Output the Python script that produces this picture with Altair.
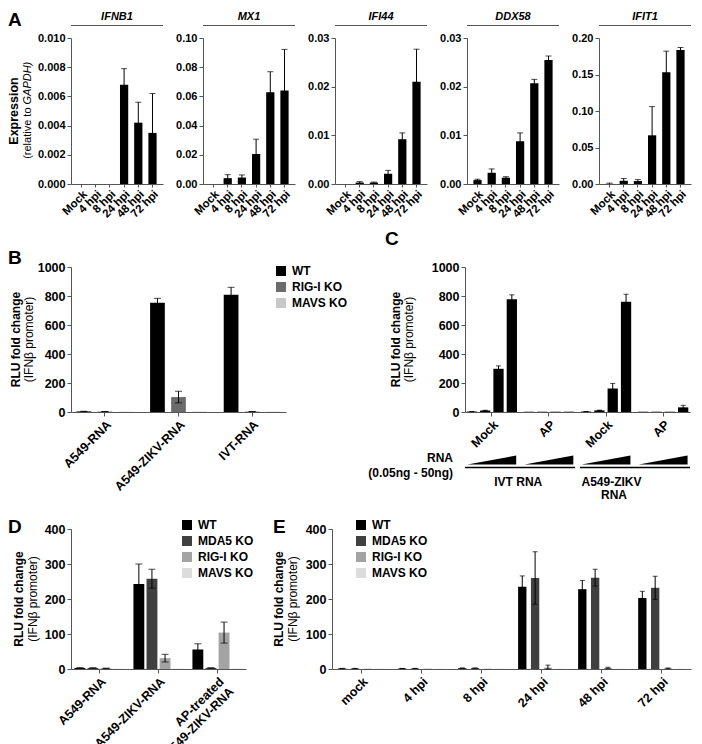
import altair as alt
import pandas as pd

FONT = "Liberation Sans"
AXC = "#555555"
ONE = pd.DataFrame({"k": [0]})

# ---------------- Panel A data ----------------
HPI = ["Mock", "4 hpi", "8 hpi", "24 hpi", "48 hpi", "72 hpi"]
A_GENES = ["IFNB1", "MX1", "IFI44", "DDX58", "IFIT1"]
IFNB1_MEAN = [0, 0, 0, 0.0068, 0.0042, 0.0035]
IFNB1_ERR = [0, 0, 0, 0.0011, 0.0014, 0.0027]
MX1_MEAN = [0, 0.0040, 0.0044, 0.0205, 0.0628, 0.0640]
MX1_ERR = [0, 0.0024, 0.0018, 0.0102, 0.0141, 0.0282]
IFI44_MEAN = [0, 0.0003, 0.0003, 0.0021, 0.0092, 0.0210]
IFI44_ERR = [0, 0.0002, 0.0001, 0.0007, 0.0013, 0.0067]
DDX58_MEAN = [0.0008, 0.0023, 0.0013, 0.0088, 0.0207, 0.0255]
DDX58_ERR = [0.0002, 0.0008, 0.0002, 0.0017, 0.0008, 0.0008]
IFIT1_MEAN = [0.0002, 0.0044, 0.0040, 0.0667, 0.1530, 0.1836]
IFIT1_ERR = [0.0010, 0.0032, 0.0020, 0.0393, 0.0290, 0.0034]
A_MEANS = [IFNB1_MEAN, MX1_MEAN, IFI44_MEAN, DDX58_MEAN, IFIT1_MEAN]
A_ERRS = [IFNB1_ERR, MX1_ERR, IFI44_ERR, DDX58_ERR, IFIT1_ERR]
A_YMAX = [0.010, 0.10, 0.03, 0.03, 0.20]
A_YTICKS = [
    [0, 0.002, 0.004, 0.006, 0.008, 0.010],
    [0, 0.02, 0.04, 0.06, 0.08, 0.10],
    [0, 0.01, 0.02, 0.03],
    [0, 0.01, 0.02, 0.03],
    [0, 0.05, 0.10, 0.15, 0.20],
]
A_FMT = [".3f", ".2f", ".2f", ".2f", ".2f"]

# ---------------- Panel B data ----------------
B_GROUPS = ["A549-RNA", "A549-ZIKV-RNA", "IVT-RNA"]
B_SERIES = ["WT", "RIG-I KO", "MAVS KO"]
B_MEAN = [[4, 754, 808], [3, 103, 3], [2, 3, 2]]
B_ERR = [[1, 30, 52], [0.5, 40, 0.5], [0, 0, 0]]
B_COLORS = ["#000000", "#6b6b6b", "#c8c8c8"]

# ---------------- Panel C data ----------------
C_GROUPS = ["IVT RNA|Mock", "IVT RNA|AP", "A549-ZIKV RNA|Mock", "A549-ZIKV RNA|AP"]
C_DOSES = ["0.05 ng", "0.5 ng", "5 ng", "50 ng"]
C_MEAN = [[3, 2, 3, 2], [10, 2, 11, 2], [298, 2, 162, 2], [778, 2, 760, 32]]
C_ERR = [[0.5, 0, 0.5, 0], [2, 0, 2, 0], [20, 0, 35, 0], [30, 0, 52, 14]]

# ---------------- Panel D data ----------------
D_GROUPS = ["A549-RNA", "A549-ZIKV-RNA", "AP-treated|A549-ZIKV-RNA"]
DE_SERIES = ["WT", "MDA5 KO", "RIG-I KO", "MAVS KO"]
D_MEAN = [[3, 243, 56], [3, 258, 3], [2, 31, 104], [1, 1, 1]]
D_ERR = [[0.5, 57, 16], [0.5, 27, 0.5], [0.5, 11, 30], [0, 0, 0]]
DE_COLORS = ["#000000", "#404040", "#a3a3a3", "#dcdcdc"]

# ---------------- Panel E data ----------------
E_GROUPS = ["mock", "4 hpi", "8 hpi", "24 hpi", "48 hpi", "72 hpi"]
E_MEAN = [[1.5, 1.5, 2.5, 235, 228, 203], [1.5, 1.5, 2.5, 260, 261, 232],
          [1, 1, 1, 4, 3, 2], [1, 1, 1, 1, 1, 1]]
E_ERR = [[0.3, 0.3, 0.5, 31, 25, 19], [0.3, 0.3, 0.5, 75, 24, 33],
         [0, 0, 0, 7, 2, 1], [0, 0, 0, 0, 0, 0]]

RLU_TICKS_B = [0, 200, 400, 600, 800, 1000]
RLU_TICKS_D = [0, 100, 200, 300, 400]


def txt(text, x, y, size=12, weight="bold", style="normal", align="center",
        baseline="middle", angle=0):
    return alt.Chart(ONE).mark_text(
        text=text, font=FONT, fontSize=size, fontWeight=weight, fontStyle=style,
        align=align, baseline=baseline, angle=angle, color="black"
    ).encode(x=alt.value(x), y=alt.value(y))


def marker(y):
    # white (invisible) layout guide that fixes the vertical extent of a row
    return alt.Chart(ONE).mark_rule(color="white", strokeWidth=1).encode(
        x=alt.value(0), x2=alt.value(1), y=alt.value(y))


# ---------------- Panel A ----------------
WA, HA = 92, 146


def panel_a(i):
    df = pd.DataFrame({"t": HPI, "v": A_MEANS[i], "e": A_ERRS[i]})
    df["lo"] = (df["v"] - df["e"]).clip(lower=0)
    df["hi"] = df["v"] + df["e"]
    x = alt.X("t:N", scale=alt.Scale(domain=HPI, paddingInner=0.42, paddingOuter=0.45),
              axis=alt.Axis(title=None, labelAngle=-45, labelAlign="right",
                            labelBaseline="top", labelFontSize=11.5, tickSize=3,
                            labelPadding=1, labelFontWeight="bold"))
    ysc = alt.Scale(domain=[0, A_YMAX[i]], nice=False)
    yax = alt.Axis(title=None, values=A_YTICKS[i], format=A_FMT[i], labelFontSize=11,
                   tickSize=4, labelPadding=2, labelFontWeight="bold")
    base = alt.Chart(df)
    bars = base.mark_bar(color="black").encode(x=x, y=alt.Y("v:Q", scale=ysc, axis=yax))
    eb = base.transform_filter("datum.e > 0")
    rule = eb.mark_rule(color="black", strokeWidth=1).encode(
        x=x, y=alt.Y("lo:Q", scale=ysc, axis=yax), y2="hi:Q")
    cap = eb.mark_tick(color="black", thickness=1, size=6).encode(
        x=x, y=alt.Y("hi:Q", scale=ysc, axis=yax))
    layers = [bars, rule, cap,
              txt(A_GENES[i], WA / 2, -21, size=11, style="italic"),
              alt.Chart(ONE).mark_rule(color=AXC, strokeWidth=1.2).encode(
                  x=alt.value(0), x2=alt.value(WA), y=alt.value(-12.5))]
    if i == 0:
        anchor = HA / 2 - 5
        layers += [
            marker(HA + 38),
            txt("A", -63, -27, size=19, align="left", baseline="top"),
            txt("Expression", -57, HA / 2, size=12.5, angle=270),
            txt("(relative to", -43, anchor + 1.5, size=11, weight="normal", angle=270,
                align="right"),
            txt("GAPDH)", -43, anchor - 1.5, size=11, weight="normal", style="italic",
                angle=270, align="left"),
        ]
    return alt.layer(*layers).properties(width=WA, height=HA)


row_a = alt.hconcat(*[panel_a(i) for i in range(5)], spacing=40, bounds="flush")


# ---------------- grouped panels ----------------
def grouped(groups, series, mean, err, W, H, ymax, yticks, gpad, opad, capw,
            colors=None, legend=None, label_expr=None):
    rows = []
    for si, s in enumerate(series):
        for gi, g in enumerate(groups):
            v = mean[si][gi]
            e = err[si][gi]
            rows.append({"g": g, "s": s, "v": v, "e": e, "lo": max(0, v - e), "hi": v + e})
    df = pd.DataFrame(rows)
    axkw = dict(title=None, labelAngle=-45, labelAlign="right", labelBaseline="top",
                labelFontSize=12.5, tickSize=4, labelPadding=2, labelLineHeight=14,
                labelFontWeight="bold")
    if label_expr:
        axkw["labelExpr"] = label_expr
    x = alt.X("g:N", scale=alt.Scale(domain=groups, paddingInner=gpad[0],
                                     paddingOuter=gpad[1]), axis=alt.Axis(**axkw))
    xo = alt.XOffset("s:N", scale=alt.Scale(domain=series, paddingInner=opad[0],
                                            paddingOuter=opad[1]))
    ysc = alt.Scale(domain=[0, ymax], nice=False)
    yax = alt.Axis(title=None, values=yticks, format="d", labelFontSize=12.5, tickSize=4,
                   labelPadding=2, labelFontWeight="bold")
    if colors:
        color = alt.Color("s:N", scale=alt.Scale(domain=series, range=colors), legend=legend)
    else:
        color = alt.value("black")
    base = alt.Chart(df)
    bars = base.mark_bar().encode(x=x, xOffset=xo, y=alt.Y("v:Q", scale=ysc, axis=yax),
                                  color=color)
    eb = base.transform_filter("datum.e > 0")
    rule = eb.mark_rule(color="black", strokeWidth=1).encode(
        x=x, xOffset=xo, y=alt.Y("lo:Q", scale=ysc, axis=yax), y2="hi:Q")
    cap_hi = eb.mark_tick(color="black", thickness=1, size=capw).encode(
        x=x, xOffset=xo, y=alt.Y("hi:Q", scale=ysc, axis=yax))
    cap_lo = eb.mark_tick(color="black", thickness=1, size=capw).encode(
        x=x, xOffset=xo, y=alt.Y("lo:Q", scale=ysc, axis=yax))
    return [bars, rule, cap_hi, cap_lo], x


def make_legend(lx, ly):
    return alt.Legend(orient="none", legendX=lx, legendY=ly, title=None,
                      symbolType="square", symbolSize=100, symbolStrokeWidth=0,
                      symbolOpacity=1, labelFontSize=12, labelFontWeight="bold",
                      labelFont=FONT, labelColor="black", rowPadding=4, labelOffset=5,
                      padding=0)


# Panel B
WB, HB = 215, 145
b_layers, _ = grouped(B_GROUPS, B_SERIES, B_MEAN, B_ERR, WB, HB, 1000, RLU_TICKS_B,
                      (0.2, 0.06), (0.3, 0.05), 7, colors=B_COLORS,
                      legend=make_legend(204, -2))
panel_b = alt.layer(
    *b_layers,
    marker(-38), marker(HB + 98),
    txt("B", -63, -18, size=19, align="left", baseline="top"),
    txt("RLU fold change", -55, HB / 2, angle=270),
    txt("(IFNβ promoter)", -42, HB / 2, weight="normal", angle=270),
).properties(width=WB, height=HB)

# Panel C
WC, HC = 225, 145
c_layers, c_x = grouped(C_GROUPS, C_DOSES, C_MEAN, C_ERR, WC, HC, 1000, RLU_TICKS_B,
                        (0.12, 0.03), (0.23, 0.0), 5,
                        label_expr="split(datum.label, '|')[1]")
WEDGE = "M -1 0.18 L 1 0.18 L 1 -0.18 Z"
wedges = alt.Chart(pd.DataFrame({"g": C_GROUPS})).mark_point(
    shape=WEDGE, size=2377, filled=True, color="black", opacity=1, strokeWidth=0
).encode(x=c_x, y=alt.value(HC + 48))
panel_c = alt.layer(
    *c_layers, wedges,
    alt.Chart(ONE).mark_rule(color="black", strokeWidth=1.5).encode(
        x=alt.value(0), x2=alt.value(WC / 2 - 2.5), y=alt.value(HC + 55.5)),
    alt.Chart(ONE).mark_rule(color="black", strokeWidth=1.5).encode(
        x=alt.value(WC / 2 + 2.5), x2=alt.value(WC), y=alt.value(HC + 55.5)),
    txt("IVT RNA", WC / 4 - 3, HC + 70),
    txt("A549-ZIKV", 146.5, HC + 70),
    txt("RNA", 149, HC + 83),
    txt("RNA", -12, HC + 46, align="right"),
    txt("(0.05ng - 50ng)", -12, HC + 61, align="right"),
    txt("C", -80, -37.5, size=19, align="left", baseline="top"),
    txt("RLU fold change", -69, HC / 2, angle=270),
    txt("(IFNβ promoter)", -56, HC / 2, weight="normal", angle=270),
).properties(width=WC, height=HC)

row_bc = alt.hconcat(panel_b, panel_c, spacing=179, bounds="flush").resolve_scale(
    color="independent", xOffset="independent")

# Panel D
WD, HD = 175, 140
d_layers, _ = grouped(D_GROUPS, DE_SERIES, D_MEAN, D_ERR, WD, HD, 400, RLU_TICKS_D,
                      (0.15, 0.058), (0.17, 0.0), 7, colors=DE_COLORS,
                      legend=make_legend(110, -10),
                      label_expr="split(datum.label, '|')")
panel_d = alt.layer(
    *d_layers,
    marker(-12),
    txt("D", -63, -11, size=19, align="left", baseline="top"),
    txt("RLU fold change", -52, HD / 2, angle=270),
    txt("(IFNβ promoter)", -38, HD / 2, weight="normal", angle=270),
).properties(width=WD, height=HD)

# Panel E
WE, HE = 359, 140
e_layers, _ = grouped(E_GROUPS, DE_SERIES, E_MEAN, E_ERR, WE, HE, 400, RLU_TICKS_D,
                      (0.22, 0.1), (0.35, 0.0), 5, colors=DE_COLORS,
                      legend=make_legend(23, -10))
panel_e = alt.layer(
    *e_layers,
    txt("E", -59, -11, size=19, align="left", baseline="top"),
    txt("RLU fold change", -53, HE / 2, angle=270),
    txt("(IFNβ promoter)", -39, HE / 2, weight="normal", angle=270),
).properties(width=WE, height=HE)

row_de = alt.hconcat(panel_d, panel_e, spacing=86, bounds="flush").resolve_scale(
    color="independent", xOffset="independent")

chart = alt.vconcat(row_a, row_bc, row_de, spacing=5).resolve_scale(
    color="independent", xOffset="independent"
).properties(
    padding={"left": 0, "top": 3, "right": 0, "bottom": 14}
).configure(background="white").configure_view(stroke=None).configure_axis(
    labelFont=FONT, labelFontWeight="bold", labelColor="black", domainColor=AXC,
    tickColor=AXC, grid=False, domainWidth=1, tickWidth=1
)

chart.save("out.html", embed_options={"renderer": "svg", "actions": False})
